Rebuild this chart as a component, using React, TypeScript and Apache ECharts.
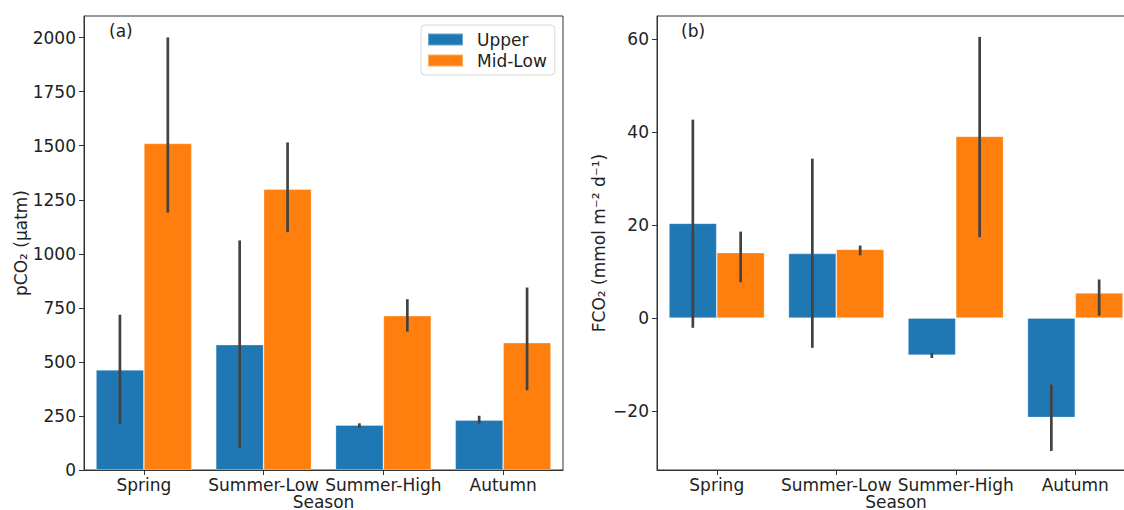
import React, { useEffect, useRef } from "react";
import * as echarts from "echarts";

const seasons = ["Spring", "Summer-Low", "Summer-High", "Autumn"];
const seriesNames = ["Upper", "Mid-Low"];

const pco2Upper = [463, 580, 208, 231];
const pco2UpperLo = [213, 100, 196, 214];
const pco2UpperHi = [718, 1062, 216, 251];
const pco2MidLow = [1511, 1299, 714, 589];
const pco2MidLowLo = [1191, 1100, 640, 369];
const pco2MidLowHi = [2001, 1515, 790, 844];

const fco2Upper = [20.4, 13.9, -8.0, -21.4];
const fco2UpperLo = [-2.1, -6.4, -8.6, -28.6];
const fco2UpperHi = [42.7, 34.3, -7.5, -14.3];
const fco2MidLow = [14.1, 14.8, 39.1, 5.4];
const fco2MidLowLo = [7.7, 13.5, 17.4, 0.5];
const fco2MidLowHi = [18.6, 15.6, 60.5, 8.3];

const pco2Ticks = [0, 250, 500, 750, 1000, 1250, 1500, 1750, 2000];
const fco2Ticks = [-20, 0, 20, 40, 60];

const BLUE = "#1f77b4";
const ORANGE = "#ff7f0e";
const ERR = "#424242";
const AX = "#333333";
const FONT = "DejaVu Sans";
const FS = 17;

const fmt = (v: number) => (v < 0 ? "−" + Math.abs(v) : String(v));

function errSeries(name: string, xi: number, lo: number[], hi: number[], side: number) {
  return {
    type: "custom",
    name: name + " err",
    xAxisIndex: xi,
    yAxisIndex: xi,
    z: 5,
    silent: true,
    encode: { x: 0, y: [1, 2] },
    data: seasons.map((_, i) => [i, lo[i], hi[i]]),
    renderItem: (params: any, api: any) => {
      const idx = api.value(0);
      const bw = api.size([1, 0])[0];
      const x = api.coord([idx, 0])[0] + side * bw * 0.2;
      const y1 = api.coord([idx, api.value(1)])[1];
      const y2 = api.coord([idx, api.value(2)])[1];
      return {
        type: "line",
        shape: { x1: x, y1, x2: x, y2 },
        style: { stroke: ERR, lineWidth: 2.7 },
      };
    },
  };
}

function barSeries(name: string, xi: number, data: number[], color: string) {
  return {
    type: "bar",
    name,
    xAxisIndex: xi,
    yAxisIndex: xi,
    data,
    barWidth: "40%",
    barGap: "0%",
    itemStyle: { color, borderColor: "rgba(255,255,255,0.35)", borderWidth: 0.8 },
  };
}

export default function App() {
  const ref = useRef<HTMLDivElement>(null);
  useEffect(() => {
    const chart = echarts.init(ref.current!, undefined, { renderer: "svg" });
    const axisCommon = {
      axisLine: { show: true, onZero: false, lineStyle: { color: AX, width: 1 } },
      axisTick: { show: true, length: 5, lineStyle: { color: AX, width: 1 } },
      splitLine: { show: false },
    };
    const labelStyle = { color: "#222", fontFamily: FONT, fontSize: FS };
    const xAxis = [0, 1].map((i) => ({
      type: "category",
      gridIndex: i,
      data: seasons,
      ...axisCommon,
      axisTick: { ...axisCommon.axisTick, alignWithLabel: true },
      axisLabel: { ...labelStyle, margin: 6, interval: 0 },
      name: "Season",
      nameLocation: "middle",
      nameGap: 23,
      nameMoveOverlap: false,
      nameTextStyle: { ...labelStyle },
    }));
    const yAxis = [
      {
        type: "value",
        gridIndex: 0,
        min: 0,
        max: 2100,
        ...axisCommon,
        axisTick: { ...axisCommon.axisTick, customValues: pco2Ticks },
        axisLabel: { ...labelStyle, margin: 8, customValues: pco2Ticks, formatter: fmt },
        name: "pCO₂ (μatm)",
        nameLocation: "middle",
        nameGap: 55,
        nameMoveOverlap: false,
        nameTextStyle: { ...labelStyle },
      },
      {
        type: "value",
        gridIndex: 1,
        min: -32.7,
        max: 65,
        ...axisCommon,
        axisTick: { ...axisCommon.axisTick, customValues: fco2Ticks },
        axisLabel: { ...labelStyle, margin: 8, customValues: fco2Ticks, formatter: fmt },
        name: "FCO₂ (mmol m⁻² d⁻¹)",
        nameLocation: "middle",
        nameGap: 50,
        nameMoveOverlap: false,
        nameTextStyle: { ...labelStyle },
      },
    ];
    chart.setOption({
      animation: false,
      backgroundColor: "#ffffff",
      grid: [
        { left: 84, top: 16, width: 479, height: 454, outerBoundsMode: "none", containLabel: false, show: true, borderColor: AX, borderWidth: 1, backgroundColor: "transparent" },
        { left: 657, top: 16, width: 478, height: 454, outerBoundsMode: "none", containLabel: false, show: true, borderColor: AX, borderWidth: 1, backgroundColor: "transparent" },
      ],
      legend: {
        data: seriesNames,
        orient: "vertical",
        left: 421,
        top: 25,
        itemWidth: 35,
        itemHeight: 12,
        itemGap: 4,
        padding: [6, 8, 6, 6],
        borderColor: "#d8d8d8",
        borderWidth: 1,
        borderRadius: 4,
        backgroundColor: "#ffffff",
        icon: "rect",
        textStyle: { ...labelStyle, padding: [0, 0, 0, 9] },
      },
      xAxis,
      yAxis,
      graphic: [
        { type: "text", left: 109, top: 22, style: { text: "(a)", font: `${FS}px ${FONT}`, fill: "#222" } },
        { type: "text", left: 681, top: 22, style: { text: "(b)", font: `${FS}px ${FONT}`, fill: "#222" } },
      ],
      series: [
        barSeries("Upper", 0, pco2Upper, BLUE),
        barSeries("Mid-Low", 0, pco2MidLow, ORANGE),
        barSeries("Upper", 1, fco2Upper, BLUE),
        barSeries("Mid-Low", 1, fco2MidLow, ORANGE),
        errSeries("Upper", 0, pco2UpperLo, pco2UpperHi, -1),
        errSeries("Mid-Low", 0, pco2MidLowLo, pco2MidLowHi, 1),
        errSeries("Upper", 1, fco2UpperLo, fco2UpperHi, -1),
        errSeries("Mid-Low", 1, fco2MidLowLo, fco2MidLowHi, 1),
      ],
    });
    return () => chart.dispose();
  }, []);
  return (
    <div
      ref={ref}
      style={{ width: 1124, height: 510, position: "absolute", left: 0, top: 0 }}
    />
  );
}
